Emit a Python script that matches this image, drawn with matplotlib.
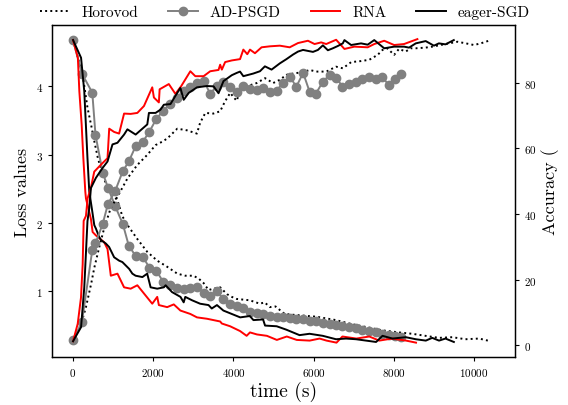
import matplotlib
matplotlib.use("Agg")
import matplotlib.pyplot as plt

plt.rcParams['font.family'] = 'serif'
plt.rcParams['font.serif'] = ['cmr10', 'DejaVu Serif']
plt.rcParams['mathtext.fontset'] = 'cm'
plt.rcParams['axes.unicode_minus'] = False
plt.rcParams['axes.formatter.use_mathtext'] = True

# ---------------- data ----------------
# Horovod
hv_loss_t = [0, 240, 360, 450, 530, 620, 740, 860, 985, 1110, 1230, 1360, 1600, 1850, 2100, 2350,
             2600, 2800, 3000, 3130, 3260, 3380, 3500, 3670, 3840, 3960, 4080, 4410, 4660, 4780,
             4910, 5050, 5280, 5650, 6070, 6560, 6890, 7300, 7720, 8130, 8460, 8790, 9130, 9460,
             9790, 10130, 10420]
hv_loss = [4.68, 4.17, 3.69, 3.44, 3.2, 2.95, 2.71, 2.51, 2.42, 2.33, 2.1, 1.97, 1.77, 1.58, 1.45, 1.36,
           1.26, 1.23, 1.23, 1.19, 1.12, 1.02, 1.04, 1.06, 0.96, 0.92, 0.89, 0.87, 0.82, 0.84,
           0.77, 0.78, 0.67, 0.65, 0.63, 0.58, 0.53, 0.48, 0.43, 0.40, 0.38, 0.35, 0.32, 0.33,
           0.30, 0.31, 0.27]
hv_acc_t = [0, 200, 320, 450, 530, 650, 780, 940, 1110, 1360, 1600, 1850, 2060, 2220, 2350, 2600,
            2840, 3090, 3170, 3300, 3500, 3670, 3790, 3920, 4080, 4170, 4330, 4580, 4790, 4990,
            5160, 5320, 5530, 5740, 5900, 6070, 6320, 6560, 6730, 6940, 7180, 7390, 7600, 7720,
            7840, 8010, 8130, 8300, 8420, 8550, 8790, 8960, 9170, 9380, 9590, 9800, 10000, 10170,
            10420]
hv_acc = [1.2, 6.5, 11.5, 18.6, 23.6, 29.7, 35.8, 41.8, 45.3, 50.9, 54.9, 58, 61, 62, 63, 66,
          65.5, 64.5, 67.8, 70.8, 70.6, 71.3, 74.3, 76.9, 74.5, 77.5, 78.9, 79.9, 81.4, 79.9,
          80.9, 82.4, 82.9, 83.2, 83.9, 83.4, 83.4, 84.9, 84.4, 86.3, 86.6, 87, 88.5, 90,
          90.5, 88.5, 90.3, 89.5, 90.5, 90.5, 90.7, 91, 91.5, 92, 92.5, 92, 91.5, 92,
          93]

# AD-PSGD
ad_t = [0, 220, 480, 560, 740, 870, 1050, 1240, 1390, 1560, 1740, 1900, 2080, 2250, 2420, 2590,
        2760, 2930, 3100, 3260, 3420, 3590, 3750, 3920, 4090, 4250, 4410, 4580, 4740, 4910,
        5080, 5240, 5410, 5570, 5740, 5900, 6060, 6230, 6400, 6570, 6720, 6890, 7060, 7220,
        7390, 7560, 7710, 7870, 8020, 8180]
ad_loss = [4.68, 4.19, 3.91, 3.29, 2.74, 2.52, 2.25, 1.99, 1.67, 1.52, 1.51, 1.35, 1.30, 1.14, 1.09, 1.05,
           1.04, 1.05, 1.07, 0.97, 0.94, 1.0, 0.89, 0.82, 0.79, 0.75, 0.70, 0.69, 0.67, 0.64,
           0.63, 0.63, 0.61, 0.60, 0.59, 0.57, 0.56, 0.54, 0.53, 0.51, 0.50, 0.48, 0.46, 0.44,
           0.42, 0.40, 0.38, 0.36, 0.35, 0.34]
ad_acc = [1.5, 7, 29, 31, 37, 43, 47, 53, 56, 60.6, 62, 65, 69, 71.5, 73.6, 75.5,
          77.6, 78.8, 80, 80.6, 76.7, 79, 80.3, 78.8, 77.3, 79, 78, 77.9, 78.5, 77.3,
          77.6, 80, 81.8, 78.8, 83, 77.3, 76.7, 80.3, 82.4, 81.5, 78.8, 79.7, 80.3, 81.2,
          81.8, 81.2, 81.8, 79.4, 81.2, 82.7]

# RNA
rna_loss_t = [0, 120, 157, 215, 256, 306, 322, 446, 488, 570, 777, 860, 942, 1108, 1273, 1438,
              1604, 1769, 1976, 2100, 2141, 2348, 2513, 2678, 2926, 3092, 3340, 3670, 3712, 3918,
              4166, 4330, 4414, 4588, 4836, 5084, 5332, 5580, 5902, 6150, 6324, 6572, 6720, 7068,
              7390, 7638, 7960, 8308, 8556]
rna_loss = [4.68, 4.42, 3.93, 3.44, 2.96, 2.46, 2.36, 2.06, 1.87, 1.82, 1.72, 1.62, 1.23, 1.26, 1.06, 1.04,
            1.09, 0.97, 0.82, 0.92, 0.80, 0.77, 0.81, 0.72, 0.67, 0.62, 0.60, 0.56, 0.53, 0.49,
            0.42, 0.35, 0.40, 0.37, 0.35, 0.29, 0.34, 0.29, 0.28, 0.31, 0.28, 0.25, 0.34, 0.31,
            0.34, 0.28, 0.31, 0.28, 0.25]
rna_acc_t = [0, 116, 198, 240, 265, 322, 364, 446, 529, 694, 860, 902, 1025, 1149, 1273, 1438,
             1604, 1769, 1976, 2017, 2141, 2160, 2389, 2554, 2700, 2926, 3050, 3257, 3422, 3629,
             3670, 3712, 3794, 3960, 4166, 4248, 4347, 4414, 4538, 4703, 4910, 5158, 5405, 5612,
             5860, 6025, 6190, 6315, 6563, 6770, 7018, 7350, 7515, 7763, 8010, 8258, 8590]
rna_acc = [1.2, 6.5, 14.5, 24.6, 37.9, 39.4, 44.8, 48, 52.9, 55, 57, 66, 65, 64.5, 70.6, 70.5,
           70.8, 72.9, 78.6, 75.5, 74, 78, 79.6, 76.6, 79, 83.5, 82, 82, 83.5, 83.9,
           85.5, 84, 86.3, 86.8, 87.2, 90.1, 88.7, 90.1, 89, 90.8, 91.1, 91.3, 90.8, 92.1,
           92.8, 91.8, 92.3, 91.8, 93.1, 90.3, 91, 90.8, 91.8, 92.8, 91.5, 91.8, 93.3]

# eager-SGD
eg_loss_t = [0, 200, 280, 320, 360, 405, 470, 530, 570, 650, 700, 820, 900, 1025, 1150, 1230,
             1400, 1480, 1560, 1730, 1850, 1935, 2100, 2265, 2310, 2470, 2680, 2760, 2800, 2970,
             3170, 3380, 3460, 3590, 3750, 3960, 4170, 4410, 4500, 4740, 4790, 5080, 5320, 5650,
             5900, 6230, 6560, 6810, 7060, 7310, 7560, 7720, 7970, 8300, 8550, 8800, 8960, 9130,
             9290, 9500]
eg_loss = [4.68, 4.42, 3.93, 3.44, 2.95, 2.46, 2.21, 1.97, 1.92, 1.80, 1.75, 1.70, 1.65, 1.50, 1.45, 1.43,
           1.33, 1.26, 1.23, 1.21, 1.26, 1.06, 1.04, 1.06, 1.09, 0.99, 0.92, 0.84, 0.92, 0.87,
           0.82, 0.80, 0.75, 0.80, 0.72, 0.67, 0.62, 0.64, 0.58, 0.59, 0.50, 0.49, 0.44, 0.36,
           0.38, 0.35, 0.30, 0.31, 0.30, 0.28, 0.26, 0.35, 0.31, 0.33, 0.30, 0.28, 0.32, 0.28,
           0.31, 0.26]
eg_acc_t = [0, 200, 280, 360, 405, 446, 570, 736, 860, 984, 1108, 1273, 1356, 1562, 1852, 1893,
            2058, 2182, 2265, 2430, 2554, 2678, 2761, 2885, 3092, 3340, 3505, 3629, 3753, 3960,
            4084, 4166, 4248, 4496, 4662, 4786, 4952, 5158, 5324, 5489, 5612, 5737, 5860, 5985,
            6109, 6233, 6357, 6481, 6605, 6729, 6770, 6937, 7185, 7350, 7514, 7762, 8010, 8258,
            8382, 8549, 8797, 9002, 9126, 9292, 9498]
eg_acc = [1.2, 5.5, 17.6, 37.8, 41.8, 47.9, 51, 54, 56, 61.2, 61.7, 64.2, 65.8, 64.2, 67.3, 70.8,
          70.8, 71.8, 73.3, 73.5, 76, 78.4, 74.8, 76.9, 78.6, 79, 78.9, 76.8, 80.5, 82.3,
          83, 83.4, 82, 82.8, 83.5, 85, 84, 85.9, 87.2, 88.6, 89.5, 90, 89.7, 89.4,
          90, 91.4, 89.9, 90.5, 91.2, 92, 93, 91.5, 92, 91.6, 93, 90.5, 91, 91,
          90.7, 92, 92.7, 91.3, 92, 91.7, 93]

labels = ['Horovod', 'AD-PSGD', 'RNA', 'eager-SGD']

# ---------------- plot ----------------
fig = plt.figure(figsize=(5.68, 4.06), dpi=100)
ax = fig.add_axes([52/568, 1-358/406, (515-52)/568, (358-26)/406])
ax2 = ax.twinx()

lw = 1.4
h1, = ax.plot(hv_loss_t, hv_loss, color='black', linestyle=':', lw=lw, label=labels[0])
h2, = ax.plot(ad_t, ad_loss, color='gray', marker='o', markersize=6, lw=lw, label=labels[1])
h3, = ax.plot(rna_loss_t, rna_loss, color='red', lw=lw, label=labels[2])
h4, = ax.plot(eg_loss_t, eg_loss, color='black', lw=lw, label=labels[3])

ax2.plot(hv_acc_t, hv_acc, color='black', linestyle=':', lw=lw)
ax2.plot(ad_t, ad_acc, color='gray', marker='o', markersize=6, lw=lw)
ax2.plot(rna_acc_t, rna_acc, color='red', lw=lw)
ax2.plot(eg_acc_t, eg_acc, color='black', lw=lw)

ax.set_xlim(-525, 11025)
ax.set_ylim(0.04, 4.9)
ax2.set_ylim(-3.6, 97.6)
ax.set_xticks([0, 2000, 4000, 6000, 8000, 10000])
ax.set_yticks([1, 2, 3, 4])
ax2.set_yticks([0, 20, 40, 60, 80])

for a in (ax, ax2):
    a.tick_params(labelsize=8, length=3, width=0.8)
    for s in a.spines.values():
        s.set_linewidth(0.9)

ax.set_xlabel('time (s)', fontsize=14, labelpad=2)
ax.set_ylabel('Loss values', fontsize=13, labelpad=4)
ax2.set_ylabel('Accuracy (', fontsize=13, labelpad=3)

fig.legend(handles=[h1, h2, h3, h4], loc='center', bbox_to_anchor=(285/568, 1-13/406),
           ncol=4, frameon=False, fontsize=11, handlelength=1.95, columnspacing=1.95,
           handletextpad=0.78, borderaxespad=0)

fig.savefig('out.png', dpi=100)
